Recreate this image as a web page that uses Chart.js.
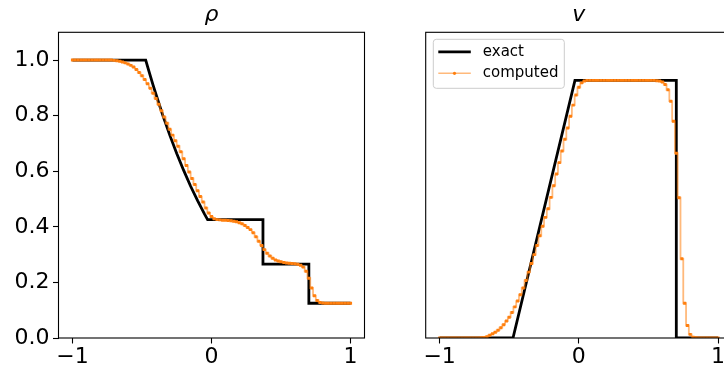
<!DOCTYPE html>
<html>
<head>
<meta charset="utf-8">
<script src="https://cdn.jsdelivr.net/npm/chart.js@4/dist/chart.umd.min.js"></script>
<style>
  html, body { margin: 0; padding: 0; background: #fff; }
  #wrap { position: relative; width: 724px; height: 374px; overflow: hidden; background: #fff; }
  #c1 { position: absolute; left: 0; top: 0; }
  #c2 { position: absolute; left: 370px; top: 0; }
</style>
</head>
<body>
<div id="wrap">
  <canvas id="c1" width="370" height="374"></canvas>
  <canvas id="c2" width="370" height="374"></canvas>
</div>
<script>
// ---- data ----
const titles = ['ρ', 'v'];
const seriesNames = ['exact', 'computed'];
const xTicks = [-1, 0, 1];
const yTicks = [0.0, 0.2, 0.4, 0.6, 0.8, 1.0];

// exact solution (breakpoints)
const exactRhoX = [-1.0, -0.473, -0.45, -0.42, -0.40, -0.35, -0.30, -0.25, -0.20, -0.15, -0.10, -0.05, -0.028, 0.37, 0.37, 0.70, 0.70, 1.0];
const exactRho  = [1.0, 1.0, 0.960, 0.910, 0.878, 0.801, 0.730, 0.664, 0.603, 0.546, 0.494, 0.446, 0.426, 0.426, 0.266, 0.266, 0.125, 0.125];
const exactVX = [-1.0, -0.473, -0.028, 0.70, 0.70, 1.0];
const exactV  = [0.0, 0.0, 0.927, 0.927, 0.0, 0.0];

// computed solution (cell values)
const gridX = [-1.00,-0.98,-0.96,-0.94,-0.92,-0.90,-0.88,-0.86,-0.84,-0.82,-0.80,-0.78,-0.76,-0.74,-0.72,
  -0.70,-0.68,-0.66,-0.64,-0.62,-0.60,-0.58,-0.56,-0.54,-0.52,-0.50,-0.48,-0.46,-0.44,-0.42,-0.40,-0.38,-0.36,-0.34,-0.32,
  -0.30,-0.28,-0.26,-0.24,-0.22,-0.20,-0.18,-0.16,-0.14,-0.12,-0.10,-0.08,-0.06,-0.04,-0.02,
  0.00,0.02,0.04,0.06,0.08,0.10,0.12,0.14,0.16,0.18,0.20,0.22,0.24,0.26,0.28,0.30,0.32,0.34,0.36,0.38,
  0.40,0.42,0.44,0.46,0.48,0.50,0.52,0.54,0.56,0.58,0.60,0.62,0.64,0.66,0.68,0.70,0.72,0.74,0.76,0.78,
  0.80,0.82,0.84,0.86,0.88,0.90,0.92,0.94,0.96,0.98,1.00];
const compRho = [1.000,1.000,1.000,1.000,1.000,1.000,1.000,1.000,1.000,1.000,1.000,1.000,1.000,1.000,1.000,
  0.999,0.998,0.996,0.993,0.990,0.986,0.981,0.975,0.966,0.955,0.944,0.930,0.915,0.899,0.881,0.862,0.841,0.818,0.795,0.773,
  0.751,0.730,0.710,0.690,0.670,0.645,0.621,0.597,0.574,0.552,0.530,0.509,0.489,0.468,0.450,
  0.437,0.429,0.426,0.425,0.424,0.424,0.423,0.422,0.420,0.418,0.415,0.411,0.405,0.398,0.390,0.379,0.364,0.348,0.333,0.318,
  0.305,0.295,0.287,0.281,0.277,0.274,0.272,0.270,0.269,0.268,0.267,0.265,0.262,0.255,0.240,0.215,0.180,0.152,0.135,0.128,
  0.126,0.125,0.125,0.125,0.125,0.125,0.125,0.125,0.125,0.125,0.125];
const compV = [0.000,0.000,0.000,0.000,0.000,0.000,0.000,0.000,0.000,0.000,0.000,0.000,0.000,0.000,0.000,
  0.001,0.002,0.005,0.010,0.015,0.021,0.028,0.037,0.048,0.061,0.075,0.092,0.112,0.133,0.156,0.180,0.207,0.237,0.268,0.300,
  0.333,0.368,0.402,0.434,0.465,0.506,0.548,0.590,0.631,0.673,0.715,0.756,0.798,0.838,0.874,
  0.902,0.918,0.925,0.927,0.927,0.927,0.927,0.927,0.927,0.927,0.927,0.927,0.927,0.927,0.927,0.927,0.927,0.927,0.927,0.927,
  0.927,0.927,0.927,0.927,0.927,0.927,0.927,0.927,0.926,0.925,0.921,0.912,0.893,0.852,0.780,0.665,0.505,0.285,0.125,0.045,
  0.013,0.003,0.001,0.000,0.000,0.000,0.000,0.000,0.000,0.000,0.000];

// ---- styling ----
const FONT = "'DejaVu Sans', sans-serif";
const ORANGE = '#ff7f0e';
const ORANGE_LINE = 'rgba(255,127,14,0.55)';

function pts(xs, ys) { return xs.map((x, i) => ({ x: x, y: ys[i] })); }
function minusLabel(v) { return v < 0 ? '\u2212' + Math.abs(v) : String(v); }

const framePlugin = {
  id: 'frame',
  afterDatasetsDraw(chart) {
    const a = chart.chartArea, ctx = chart.ctx;
    ctx.save();
    ctx.strokeStyle = '#000';
    ctx.lineWidth = 1.1;
    ctx.strokeRect(a.left, a.top, a.right - a.left, a.bottom - a.top);
    ctx.restore();
  }
};

function titlePlugin(text) {
  return {
    id: 'mtitle',
    afterDraw(chart) {
      const a = chart.chartArea, ctx = chart.ctx;
      ctx.save();
      ctx.fillStyle = '#000';
      ctx.font = 'italic 22px ' + FONT;
      ctx.textAlign = 'center';
      ctx.textBaseline = 'alphabetic';
      ctx.fillText(text, (a.left + a.right) / 2, 21);
      ctx.restore();
    }
  };
}

const legendPlugin = {
  id: 'mlegend',
  afterDraw(chart) {
    const a = chart.chartArea, ctx = chart.ctx;
    const x0 = a.left + 7.6, y0 = a.top + 7, w = 131, h = 49;
    ctx.save();
    ctx.fillStyle = 'rgba(255,255,255,0.8)';
    ctx.strokeStyle = '#cccccc';
    ctx.lineWidth = 1;
    ctx.beginPath();
    ctx.roundRect(x0, y0, w, h, 3);
    ctx.fill();
    ctx.stroke();
    // exact
    ctx.strokeStyle = '#000';
    ctx.lineWidth = 2.8;
    ctx.beginPath();
    ctx.moveTo(x0 + 5, y0 + 12.5); ctx.lineTo(x0 + 37.5, y0 + 12.5); ctx.stroke();
    // computed
    ctx.strokeStyle = ORANGE_LINE;
    ctx.lineWidth = 1.5;
    ctx.beginPath();
    ctx.moveTo(x0 + 5, y0 + 34); ctx.lineTo(x0 + 37.5, y0 + 34); ctx.stroke();
    ctx.fillStyle = ORANGE;
    ctx.beginPath(); ctx.arc(x0 + 21.2, y0 + 34, 1.6, 0, Math.PI * 2); ctx.fill();
    ctx.fillStyle = '#000';
    ctx.font = '15px ' + FONT;
    ctx.textAlign = 'left';
    ctx.textBaseline = 'middle';
    ctx.fillText(seriesNames[0], x0 + 49.5, y0 + 12.5);
    ctx.fillText(seriesNames[1], x0 + 49.5, y0 + 34);
    ctx.restore();
  }
};

function makeChart(canvasId, exX, exY, cY, title, showY, padRight, yWidth, extraPlugins) {
  return new Chart(document.getElementById(canvasId), {
    type: 'line',
    data: {
      datasets: [
        {
          label: seriesNames[0], data: pts(exX, exY), borderColor: '#000', borderWidth: 2.8,
          pointRadius: 0, tension: 0, order: 2, fill: false
        },
        {
          label: seriesNames[1], data: pts(gridX, cY), borderColor: ORANGE_LINE, borderWidth: 1.8,
          stepped: 'middle', pointRadius: 2.1, pointBackgroundColor: ORANGE, pointBorderColor: ORANGE,
          pointBorderWidth: 0, pointStyle: 'rect', order: 1, fill: false
        }
      ]
    },
    options: {
      responsive: false, animation: false, devicePixelRatio: 1,
      layout: { padding: { top: 32.3, right: padRight, bottom: 0, left: 0 } },
      plugins: { legend: { display: false }, tooltip: { enabled: false }, title: { display: false } },
      scales: {
        x: {
          type: 'linear', min: -1.1, max: 1.1,
          afterBuildTicks: s => { s.ticks = xTicks.map(v => ({ value: v })); },
          afterFit: s => { s.height = 36; },
          ticks: { callback: v => minusLabel(v), font: { family: FONT, size: 22 }, color: '#000', padding: 1, maxRotation: 0, autoSkip: false },
          grid: { display: true, drawOnChartArea: false, drawTicks: true, tickLength: 5.5, tickColor: '#000', tickWidth: 1.1 },
          border: { display: false }
        },
        y: {
          type: 'linear', min: 0, max: 1.1,
          afterBuildTicks: s => { s.ticks = showY ? yTicks.map(v => ({ value: v })) : []; },
          afterFit: s => { s.width = yWidth; },
          ticks: { display: showY, callback: v => v.toFixed(1), font: { family: FONT, size: 22 }, color: '#000', padding: 3.5, autoSkip: false },
          grid: { display: showY, drawOnChartArea: false, drawTicks: true, tickLength: 5.5, tickColor: '#000', tickWidth: 1.1 },
          border: { display: false }
        }
      }
    },
    plugins: [framePlugin, titlePlugin(title)].concat(extraPlugins)
  });
}

makeChart('c1', exactRhoX, exactRho, compRho, titles[0], true, 5.5, 58.5, []);
makeChart('c2', exactVX, exactV, compV, titles[1], false, 8, 55.7, [legendPlugin]);
</script>
</body>
</html>
